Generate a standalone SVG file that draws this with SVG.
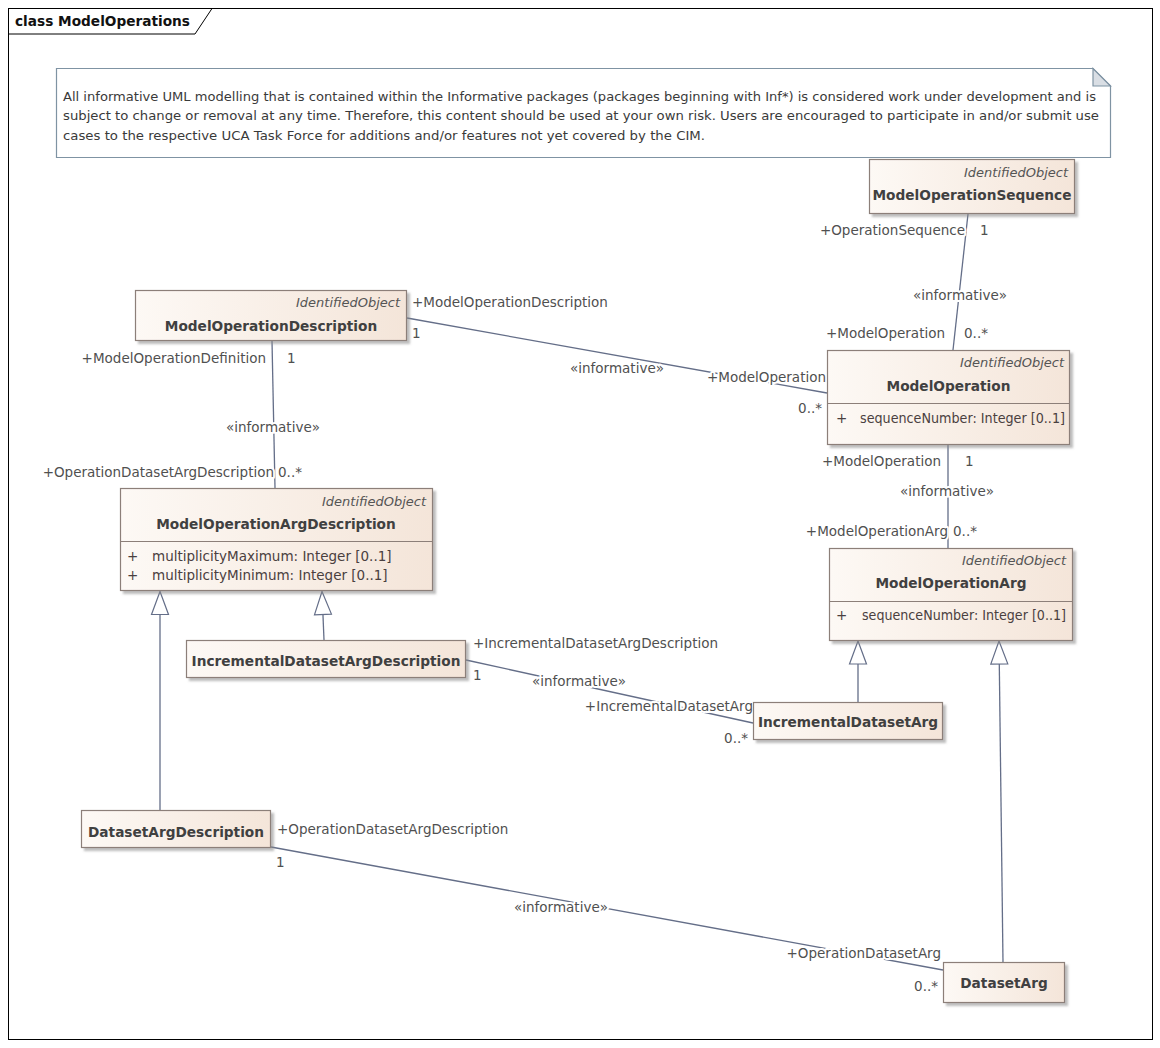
<svg xmlns="http://www.w3.org/2000/svg" width="1160" height="1048" viewBox="0 0 1160 1048">
<defs>
<linearGradient id="cls" x1="0" y1="0" x2="1" y2="0">
<stop offset="0" stop-color="#fdf9f5"/>
<stop offset="1" stop-color="#f4e5d9"/>
</linearGradient>
<filter id="sh" x="-10%" y="-10%" width="130%" height="140%">
<feDropShadow dx="3" dy="3" stdDeviation="1.2" flood-color="#8a8a8a" flood-opacity="0.55"/>
</filter>
<marker id="gen" markerUnits="userSpaceOnUse" markerWidth="30" markerHeight="20" viewBox="0 0 30 20" refX="24" refY="10" orient="auto" overflow="visible">
<path d="M1,1.5 L24,10 L1,18.5 Z" fill="#ffffff" stroke="#646e88" stroke-width="1.2"/>
</marker>
</defs>
<style>
text{font-family:"DejaVu Sans","Liberation Sans",sans-serif;}
.box{fill:url(#cls);stroke:#8c7f79;stroke-width:1.2;filter:url(#sh);}
.div{stroke:#8c7f79;stroke-width:1.2;}
.st{font-size:13px;font-style:italic;fill:#555555;text-anchor:end;}
.nm{font-size:13.7px;font-weight:bold;fill:#404040;text-anchor:middle;}
.at{font-size:13.5px;fill:#4a4040;}
.ln{stroke:#646e88;stroke-width:1.3;fill:none;}
.lb{font-size:13.5px;fill:#505050;stroke:#ffffff;stroke-width:4;paint-order:stroke;stroke-linejoin:round;}
.e{text-anchor:end;}
.m{text-anchor:middle;}
.nt{font-size:12.4px;fill:#3a3a3a;}
</style>
<rect x="0" y="0" width="1160" height="1048" fill="#ffffff"/>
<g id="frame">
<rect x="8.5" y="8.5" width="1144" height="1031" fill="none" stroke="#000000" stroke-width="1"/>
<path d="M8.5,34 L195,34 L212,8.5" fill="none" stroke="#000000" stroke-width="1"/>
<text x="15" y="26" font-size="14" font-weight="bold" fill="#111111" textLength="175" lengthAdjust="spacingAndGlyphs">class ModelOperations</text>
</g>
<g id="note">
<path d="M56.5,68.5 L1093,68.5 L1110.5,86 L1110.5,157.5 L56.5,157.5 Z" fill="#ffffff" stroke="#7f93a3" stroke-width="1.2"/>
<path d="M1093,68.5 L1093,86 L1110.5,86 Z" fill="#d9dee4" stroke="#7f93a3" stroke-width="1.2"/>
<text class="nt" x="63" y="101" textLength="1033" lengthAdjust="spacingAndGlyphs">All informative UML modelling that is contained within the Informative packages (packages beginning with Inf*) is considered work under development and is</text>
<text class="nt" x="63" y="120" textLength="1036" lengthAdjust="spacingAndGlyphs">subject to change or removal at any time.  Therefore, this content should be used at your own risk. Users are encouraged to participate in and/or submit use</text>
<text class="nt" x="63" y="140" textLength="642" lengthAdjust="spacingAndGlyphs">cases to the respective UCA Task Force for additions and/or features not yet covered by the CIM.</text>
</g>
<g id="connectors">
<line class="ln" x1="968" y1="214" x2="953" y2="350"/>
<line class="ln" x1="407" y1="318" x2="827" y2="393"/>
<line class="ln" x1="272" y1="341" x2="275" y2="488"/>
<line class="ln" x1="948" y1="445" x2="948" y2="548"/>
<line class="ln" x1="466" y1="660" x2="753" y2="723"/>
<line class="ln" x1="271" y1="847" x2="943" y2="970"/>
<line class="ln" x1="160" y1="810" x2="160" y2="591.5" marker-end="url(#gen)"/>
<line class="ln" x1="324" y1="640" x2="322" y2="591.5" marker-end="url(#gen)"/>
<line class="ln" x1="858" y1="702" x2="858" y2="641" marker-end="url(#gen)"/>
<line class="ln" x1="1003" y1="962" x2="999" y2="641" marker-end="url(#gen)"/>
<text class="lb e" x="965" y="235">+OperationSequence</text>
<text class="lb" x="980" y="235">1</text>
<text class="lb m" x="960" y="300">«informative»</text>
<text class="lb e" x="945" y="338">+ModelOperation</text>
<text class="lb" x="964" y="338">0..*</text>
<text class="lb" x="412" y="307">+ModelOperationDescription</text>
<text class="lb" x="412" y="338">1</text>
<text class="lb m" x="617" y="373">«informative»</text>
<text class="lb e" x="826" y="382">+ModelOperation</text>
<text class="lb e" x="822" y="413">0..*</text>
<text class="lb e" x="266" y="363">+ModelOperationDefinition</text>
<text class="lb" x="287" y="363">1</text>
<text class="lb m" x="273" y="432">«informative»</text>
<text class="lb e" x="274" y="477">+OperationDatasetArgDescription</text>
<text class="lb" x="278" y="477">0..*</text>
<text class="lb e" x="941" y="466">+ModelOperation</text>
<text class="lb" x="965" y="466">1</text>
<text class="lb m" x="947" y="496">«informative»</text>
<text class="lb e" x="948" y="536">+ModelOperationArg</text>
<text class="lb" x="953" y="536">0..*</text>
<text class="lb" x="473" y="648">+IncrementalDatasetArgDescription</text>
<text class="lb" x="473" y="680">1</text>
<text class="lb m" x="579" y="686">«informative»</text>
<text class="lb e" x="753" y="711">+IncrementalDatasetArg</text>
<text class="lb e" x="748" y="743">0..*</text>
<text class="lb" x="277" y="834">+OperationDatasetArgDescription</text>
<text class="lb" x="276" y="867">1</text>
<text class="lb m" x="561" y="912">«informative»</text>
<text class="lb e" x="941" y="958">+OperationDatasetArg</text>
<text class="lb e" x="938" y="991">0..*</text>
</g>
<g id="ModelOperationSequence">
<rect class="box" x="869.5" y="159.5" width="205" height="54"/>
<text class="st" x="1068" y="177">IdentifiedObject</text>
<text class="nm" x="972" y="200">ModelOperationSequence</text>
</g>
<g id="ModelOperationDescription">
<rect class="box" x="135.5" y="290.5" width="271" height="50"/>
<text class="st" x="400" y="307">IdentifiedObject</text>
<text class="nm" x="271" y="331">ModelOperationDescription</text>
</g>
<g id="ModelOperation">
<rect class="box" x="827.5" y="350.5" width="242" height="94"/>
<line class="div" x1="827.5" y1="403.5" x2="1069.5" y2="403.5"/>
<text class="st" x="1064" y="367">IdentifiedObject</text>
<text class="nm" x="948.5" y="391">ModelOperation</text>
<text class="at" x="836" y="423">+</text>
<text class="at" x="860" y="423" textLength="205" lengthAdjust="spacingAndGlyphs">sequenceNumber: Integer [0..1]</text>
</g>
<g id="ModelOperationArgDescription">
<rect class="box" x="120.5" y="488.5" width="312" height="102"/>
<line class="div" x1="120.5" y1="541.5" x2="432.5" y2="541.5"/>
<text class="st" x="426" y="506">IdentifiedObject</text>
<text class="nm" x="276" y="529">ModelOperationArgDescription</text>
<text class="at" x="127" y="561">+</text>
<text class="at" x="152" y="561">multiplicityMaximum: Integer [0..1]</text>
<text class="at" x="127" y="580">+</text>
<text class="at" x="152" y="580">multiplicityMinimum: Integer [0..1]</text>
</g>
<g id="IncrementalDatasetArgDescription">
<rect class="box" x="186.5" y="640.5" width="279" height="37"/>
<text class="nm" x="326" y="666">IncrementalDatasetArgDescription</text>
</g>
<g id="ModelOperationArg">
<rect class="box" x="829.5" y="548.5" width="243" height="92"/>
<line class="div" x1="829.5" y1="601.5" x2="1072.5" y2="601.5"/>
<text class="st" x="1066" y="565">IdentifiedObject</text>
<text class="nm" x="951" y="588">ModelOperationArg</text>
<text class="at" x="836" y="620">+</text>
<text class="at" x="862" y="620" textLength="204" lengthAdjust="spacingAndGlyphs">sequenceNumber: Integer [0..1]</text>
</g>
<g id="IncrementalDatasetArg">
<rect class="box" x="753.5" y="702.5" width="189" height="37"/>
<text class="nm" x="848" y="727">IncrementalDatasetArg</text>
</g>
<g id="DatasetArgDescription">
<rect class="box" x="81.5" y="810.5" width="189" height="37"/>
<text class="nm" x="176" y="837">DatasetArgDescription</text>
</g>
<g id="DatasetArg">
<rect class="box" x="943.5" y="962.5" width="121" height="40"/>
<text class="nm" x="1004" y="988">DatasetArg</text>
</g>
</svg>
